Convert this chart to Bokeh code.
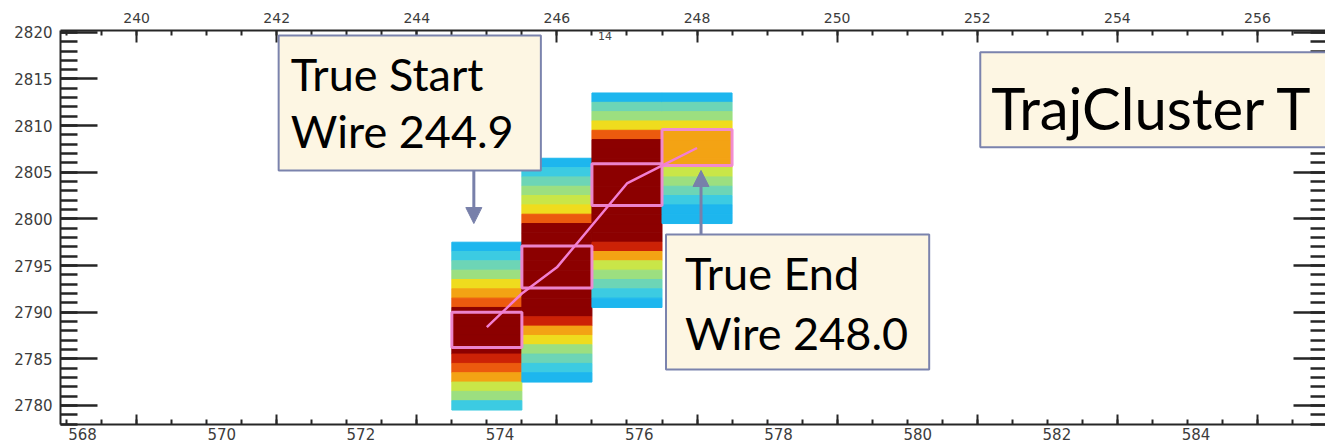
import numpy as np
from bokeh.plotting import figure
from bokeh.models import (Range1d, LinearAxis, FixedTicker, BoxAnnotation, Label,
                          Arrow, NormalHead, ColumnDataSource, LinearColorMapper,
                          CustomLabelingPolicy)
from bokeh.transform import transform
from bokeh.embed import file_html
from bokeh.resources import INLINE

# ---------------- data ----------------
wires = [245, 246, 247, 248]                  # wire number of each hit column
top_tick = [2797, 2806, 2813, 2813]           # centre of top bin of each column
charge_245 = [0, 1, 2, 3, 5, 6, 7, 9, 9, 9, 9, 9, 8, 7, 6, 4, 3, 1]
charge_246 = [0, 1, 2, 3, 4, 5, 7, 9, 9, 9, 9, 9, 9, 9, 9, 9, 9, 8, 6, 5, 3, 2, 1, 0]
charge_247 = [0, 2, 3, 5, 7, 9, 9, 9, 9, 9, 9, 9, 9, 9, 9, 9, 8, 6, 4, 3, 2, 1, 0]
charge_248 = [0, 2, 3, 5, 6, 6, 6, 6, 4, 3, 2, 1, 0, 0]
charges = [charge_245, charge_246, charge_247, charge_248]

hit_center = [2788.1, 2794.84, 2803.67, 2807.65]
hit_halfwidth = [1.9, 2.25, 2.23, 1.93]

traj_wire = [245.0, 245.5, 246.0, 246.3, 246.8, 247.0, 247.5, 248.0]
traj_tick = [2788.4, 2792.0, 2794.8, 2797.5, 2802.0, 2803.8, 2805.7, 2807.6]

top_ticks = [240, 242, 244, 246, 248, 250, 252, 254, 256]
bottom_ticks = [568, 570, 572, 574, 576, 578, 580, 582, 584]
y_ticks = [2780, 2785, 2790, 2795, 2800, 2805, 2810, 2815, 2820]

true_start_wire = 244.9
true_end_wire = 248.0
start_text = ["True Start", "Wire 244.9"]
end_text = ["True End", "Wire 248.0"]
title_text = "TrajCluster T"

palette = ["#1db6ee", "#3ccbe2", "#6dd5b6", "#9cdf80", "#c9e648",
           "#efdc1e", "#f3a314", "#ec5a0e", "#cc2206", "#8c0000"]

# ---------------- figure ----------------
X0, X1 = 238.914, 256.971
Y0, Y1 = 2777.95, 2820.2
p = figure(width=1325, height=445, x_range=Range1d(X0, X1), y_range=Range1d(Y0, Y1),
           output_backend="svg", toolbar_location=None,
           min_border_left=60, min_border_right=0, min_border_top=30, min_border_bottom=21)
p.outline_line_color = None
p.grid.visible = False
p.background_fill_color = "white"
p.border_fill_color = "white"

AX = "#262626"
LBL = "#3c3c3c"
no_labels = CustomLabelingPolicy(code="return []")

# heat columns
xs, ys, qs = [], [], []
for w, t, col in zip(wires, top_tick, charges):
    for k, q in enumerate(col):
        xs.append(w)
        ys.append(t - k)
        qs.append(q)
src = ColumnDataSource(dict(x=xs, y=ys, q=qs))
mapper = LinearColorMapper(palette=palette, low=0, high=10)
p.rect(x="x", y="y", width=1, height=1, source=src,
       fill_color=transform("q", mapper), line_color=transform("q", mapper), line_width=1)

# hit boxes
hl = [w - 0.5 for w in wires]
hr = [w + 0.5 for w in wires]
hb = [c - h for c, h in zip(hit_center, hit_halfwidth)]
ht = [c + h for c, h in zip(hit_center, hit_halfwidth)]
p.quad(left=hl, right=hr, bottom=hb, top=ht, fill_color=None,
       line_color="#f08ad6", line_width=3, line_alpha=0.95)

# trajectory
p.line(traj_wire, traj_tick, line_color="#f27fd2", line_width=2.5)

# ---------------- axes ----------------
minor_x = list(np.arange(238.0, 258.01, 0.5))
minor_y = list(np.arange(2777.0, 2821.01, 1.0))

xa = p.xaxis[0]  # bottom: tick marks only
xa.ticker = FixedTicker(ticks=top_ticks, minor_ticks=minor_x)
xa.major_tick_in = 10
xa.major_tick_out = 0
xa.minor_tick_in = 5
xa.minor_tick_out = 0
xa.major_label_policy = no_labels
xa.major_label_text_font_size = "0px"
xa.major_label_standoff = 0
xa.axis_line_width = 2
xa.axis_line_color = AX
xa.major_tick_line_color = AX
xa.minor_tick_line_color = AX
xa.major_tick_line_width = 2
xa.minor_tick_line_width = 2

# bottom labels on their own scale
bx0 = 568 - 22 / 69.6
p.extra_x_ranges = {"bottom_lbl": Range1d(bx0, bx0 + 1265 / 69.6)}
bl = LinearAxis(x_range_name="bottom_lbl", ticker=FixedTicker(ticks=bottom_ticks))
bl.axis_line_color = None
bl.major_tick_line_color = None
bl.minor_tick_line_color = None
bl.major_tick_in = 0
bl.major_tick_out = 0
bl.major_label_standoff = 3
bl.major_label_text_font = "DejaVu Sans"
bl.major_label_text_font_size = "15px"
bl.major_label_text_color = LBL
p.add_layout(bl, "below")

# top axis
ta = LinearAxis(ticker=FixedTicker(ticks=top_ticks, minor_ticks=minor_x))
ta.major_tick_in = 12
ta.major_tick_out = 0
ta.minor_tick_in = 5
ta.minor_tick_out = 0
ta.major_label_standoff = 8
ta.major_label_text_font = "DejaVu Sans"
ta.major_label_text_font_size = "14px"
ta.major_label_text_color = LBL
ta.axis_line_width = 2
ta.axis_line_color = AX
ta.major_tick_line_color = AX
ta.minor_tick_line_color = AX
ta.major_tick_line_width = 2
ta.minor_tick_line_width = 2
p.add_layout(ta, "above")

# left axis
ya = p.yaxis[0]
ya.ticker = FixedTicker(ticks=y_ticks, minor_ticks=minor_y)
ya.major_tick_in = 37
ya.major_tick_out = 0
ya.minor_tick_in = 17
ya.minor_tick_out = 0
ya.major_label_standoff = 8
ya.major_label_text_font = "DejaVu Sans"
ya.major_label_text_font_size = "15px"
ya.major_label_text_color = LBL
ya.axis_line_width = 2
ya.axis_line_color = AX
ya.major_tick_line_color = AX
ya.minor_tick_line_color = AX
ya.major_tick_line_width = 2.5
ya.minor_tick_line_width = 2.5

# right axis (its labels lie off the page)
ra = LinearAxis(ticker=FixedTicker(ticks=y_ticks, minor_ticks=minor_y))
ra.major_tick_in = 32
ra.major_tick_out = 0
ra.minor_tick_in = 15
ra.minor_tick_out = 0
ra.major_label_policy = no_labels
ra.major_label_text_font_size = "0px"
ra.major_label_standoff = 0
ra.axis_line_color = None
ra.major_tick_line_color = AX
ra.minor_tick_line_color = AX
ra.major_tick_line_width = 2.5
ra.minor_tick_line_width = 2.5
p.add_layout(ra, "right")

# small "14" tag under the top axis
p.add_layout(Label(x=246.585, y=2819.99, text="14", text_font="DejaVu Sans",
                   text_font_size="11px", text_color="#444444", text_baseline="top"))

# ---------------- callouts ----------------
FILL = "#fdf6e3"
EDGE = "#7b83ad"
FONT = "Lato"

p.add_layout(BoxAnnotation(left=242.028, right=245.771, bottom=2805.19, top=2819.66,
                           fill_color=FILL, fill_alpha=1, line_color=EDGE,
                           line_alpha=1, line_width=2))
p.add_layout(BoxAnnotation(left=247.557, right=251.314, bottom=2783.85, top=2798.32,
                           fill_color=FILL, fill_alpha=1, line_color=EDGE,
                           line_alpha=1, line_width=2))
# title box runs off the right edge: a clipped quad drawn above the axes
p.quad(left=[252.043], right=[X1 + 3], bottom=[2807.69], top=[2817.87],
       fill_color=FILL, line_color=EDGE, line_width=2, level="overlay")

for txt, yy in zip(start_text, [2815.56, 2809.37]):
    p.add_layout(Label(x=242.2, y=yy, text=txt, text_font=FONT, text_font_size="45px",
                       text_color="black", text_baseline="alphabetic"))
for txt, yy in zip(end_text, [2794.22, 2787.79]):
    p.add_layout(Label(x=247.83, y=yy, text=txt, text_font=FONT, text_font_size="45px",
                       text_color="black", text_baseline="alphabetic"))
p.add_layout(Label(x=252.2, y=2811.9, text=title_text, text_font=FONT, text_font_size="58px",
                   text_color="black", text_baseline="alphabetic", level="overlay"))

# arrows to the true start / end wires
ARW = "#7880aa"
p.add_layout(Arrow(end=NormalHead(size=16, fill_color=ARW, line_color=ARW),
                   x_start=true_start_wire - 0.086, y_start=2805.19,
                   x_end=true_start_wire - 0.086, y_end=2799.5,
                   line_color=ARW, line_width=3))
p.add_layout(Arrow(end=NormalHead(size=16, fill_color=ARW, line_color=ARW),
                   x_start=true_end_wire + 0.057, y_start=2798.32,
                   x_end=true_end_wire + 0.057, y_end=2805.19,
                   line_color=ARW, line_width=3))

open("out.html", "w").write(file_html(p, INLINE))
